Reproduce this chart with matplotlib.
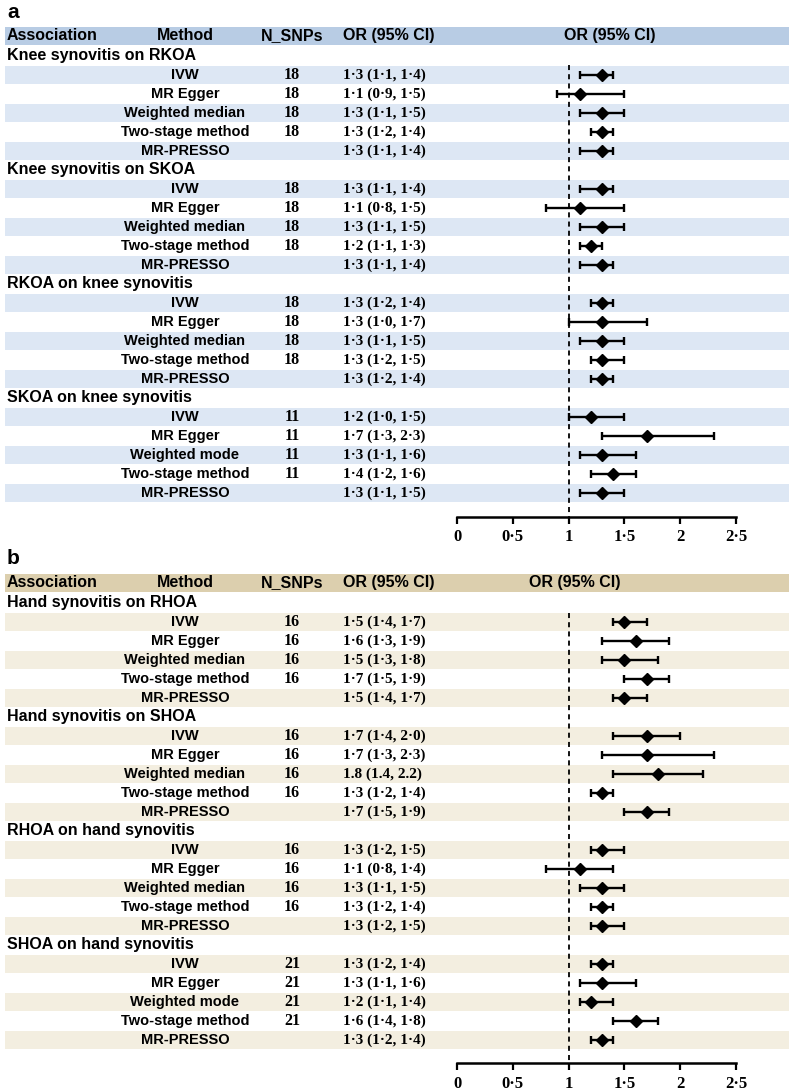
import matplotlib

matplotlib.use("Agg")
import matplotlib.pyplot as plt
import matplotlib.transforms as mtransforms

plt.rcParams["font.family"] = ["Liberation Sans", "DejaVu Sans"]

# --------------------------------------------------------------------------- #
# Datos
# --------------------------------------------------------------------------- #
methods_std = ["IVW", "MR Egger", "Weighted median", "Two-stage method", "MR-PRESSO"]
methods_mode = ["IVW", "MR Egger", "Weighted mode", "Two-stage method", "MR-PRESSO"]

groups_a = ["Knee synovitis on RKOA", "Knee synovitis on SKOA",
            "RKOA on knee synovitis", "SKOA on knee synovitis"]
methods_a = [methods_std, methods_std, methods_std, methods_mode]
nsnps_a = ["18", "18", "18", "18", "",
           "18", "18", "18", "18", "",
           "18", "18", "18", "18", "",
           "11", "11", "11", "11", ""]
or_a = [1.3, 1.1, 1.3, 1.3, 1.3,
        1.3, 1.1, 1.3, 1.2, 1.3,
        1.3, 1.3, 1.3, 1.3, 1.3,
        1.2, 1.7, 1.3, 1.4, 1.3]
lo_a = [1.1, 0.9, 1.1, 1.2, 1.1,
        1.1, 0.8, 1.1, 1.1, 1.1,
        1.2, 1.0, 1.1, 1.2, 1.2,
        1.0, 1.3, 1.1, 1.2, 1.1]
hi_a = [1.4, 1.5, 1.5, 1.4, 1.4,
        1.4, 1.5, 1.5, 1.3, 1.4,
        1.4, 1.7, 1.5, 1.5, 1.4,
        1.5, 2.3, 1.6, 1.6, 1.5]

groups_b = ["Hand synovitis on RHOA", "Hand synovitis on SHOA",
            "RHOA on hand synovitis", "SHOA on hand synovitis"]
methods_b = [methods_std, methods_std, methods_std, methods_mode]
nsnps_b = ["16", "16", "16", "16", "",
           "16", "16", "16", "16", "",
           "16", "16", "16", "16", "",
           "21", "21", "21", "21", ""]
or_b = [1.5, 1.6, 1.5, 1.7, 1.5,
        1.7, 1.7, 1.8, 1.3, 1.7,
        1.3, 1.1, 1.3, 1.3, 1.3,
        1.3, 1.3, 1.2, 1.6, 1.3]
lo_b = [1.4, 1.3, 1.3, 1.5, 1.4,
        1.4, 1.3, 1.4, 1.2, 1.5,
        1.2, 0.8, 1.1, 1.2, 1.2,
        1.2, 1.1, 1.1, 1.4, 1.2]
hi_b = [1.7, 1.9, 1.8, 1.9, 1.7,
        2.0, 2.3, 2.2, 1.4, 1.9,
        1.5, 1.4, 1.5, 1.4, 1.5,
        1.4, 1.6, 1.4, 1.8, 1.4]
# filas cuyo texto usa punto normal en vez de punto medio
plain_dot_b = {7}

xticks = [0, 0.5, 1, 1.5, 2, 2.5]

# --------------------------------------------------------------------------- #
W, H = 789, 1091
ROW = 19.0          # px por fila
X0_PX, UNIT_PX = 457, 111.6   # OR=0 en px, px por unidad de OR
SERIF = "Liberation Serif"


def fmt(v, dot="\u00b7"):
    return f"{v:.1f}".replace(".", dot)


def draw_panel(fig, letter, top_px, first_px, axis_px, groups, methods, nsnps,
               ors, los, his, head_col, band_col, or_head_px, plain=()):
    ax = fig.add_axes([0, 1 - axis_px / H, 1, (axis_px - top_px) / H])
    ax.set_xlim(-X0_PX / UNIT_PX, (W - X0_PX) / UNIT_PX)
    ax.set_ylim((axis_px - first_px) / ROW, (top_px - first_px) / ROW)
    tr = mtransforms.blended_transform_factory(ax.transAxes, ax.transData)

    def px(x):
        return x / W

    # cabecera
    ax.axhspan(-1.53, -0.58, xmin=px(5), xmax=1, color=head_col, lw=0, zorder=0)
    hy = -1.06
    ax.text(px(7), hy, "Association", transform=tr, ha="left", va="center",
            fontsize=11.5, fontweight="bold")
    ax.text(px(185), hy, "Method", transform=tr, ha="center", va="center",
            fontsize=11.5, fontweight="bold")
    ax.text(px(292), hy, "N_SNPs", transform=tr, ha="center", va="center",
            fontsize=11.5, fontweight="bold")
    ax.text(px(343), hy, "OR (95% CI)", transform=tr, ha="left", va="center",
            fontsize=11.5, fontweight="bold")
    ax.text(px(or_head_px), hy, "OR (95% CI)", transform=tr, ha="center", va="center",
            fontsize=11.5, fontweight="bold")

    ys = []
    for g, name in enumerate(groups):
        r = g * 6
        ax.text(px(7), r, name, transform=tr, ha="left", va="center",
                fontsize=11.5, fontweight="bold")
        for k, m in enumerate(methods[g]):
            y = r + 1 + k
            i = g * 5 + k
            ys.append(y)
            if k % 2 == 0:
                ax.axhspan(y - 0.49, y + 0.49, xmin=px(5), xmax=1, color=band_col,
                           lw=0, zorder=0)
            ax.text(px(185), y, m, transform=tr, ha="center", va="center",
                    fontsize=10.5, fontweight="bold")
            ax.text(px(292), y, nsnps[i], transform=tr, ha="center", va="center",
                    fontsize=11.5, fontweight="bold", family=SERIF)
            dot = "." if i in plain else "\u00b7"
            label = f"{fmt(ors[i], dot)} ({fmt(los[i], dot)}, {fmt(his[i], dot)})"
            ax.text(px(343), y, label, transform=tr, ha="left", va="center",
                    fontsize=11, fontweight="bold", family=SERIF)

    xerr = [[o - l for o, l in zip(ors, los)], [h - o for o, h in zip(ors, his)]]
    ax.errorbar(ors, ys, xerr=xerr, fmt="D", color="black", ms=6, capsize=2.6,
                elinewidth=1.7, capthick=1.7, zorder=3)

    ybot = (axis_px - first_px) / ROW
    ax.vlines(1, 0.5, ybot, colors="black", lw=1.3, linestyles=(0, (2.8, 2.3)),
              zorder=2)

    for s in ("top", "left", "right"):
        ax.spines[s].set_visible(False)
    ax.spines["bottom"].set_bounds(0, 2.5)
    ax.spines["bottom"].set_linewidth(1.8)
    ax.set_yticks([])
    ax.set_xticks(xticks)
    ax.set_xticklabels([fmt(t).replace("\u00b70", "") if t == int(t) else fmt(t)
                        for t in xticks], family=SERIF, fontweight="bold", fontsize=12)
    ax.tick_params(axis="x", direction="out", length=5, width=1.6, pad=4)
    ax.patch.set_visible(False)

    fig.text(px(7), 1 - (top_px - 8) / H, letter, ha="left", va="center",
             fontsize=15, fontweight="bold")
    return ax


fig = plt.figure(figsize=(W / 100, H / 100), dpi=100)

draw_panel(fig, "a", 20, 56, 517, groups_a, methods_a, nsnps_a, or_a, lo_a, hi_a,
           "#b8cce4", "#dde7f4", 610)
draw_panel(fig, "b", 567, 603, 1063, groups_b, methods_b, nsnps_b, or_b, lo_b, hi_b,
           "#dccfae", "#f3eee0", 575, plain=plain_dot_b)

fig.savefig("out.png", dpi=100)
